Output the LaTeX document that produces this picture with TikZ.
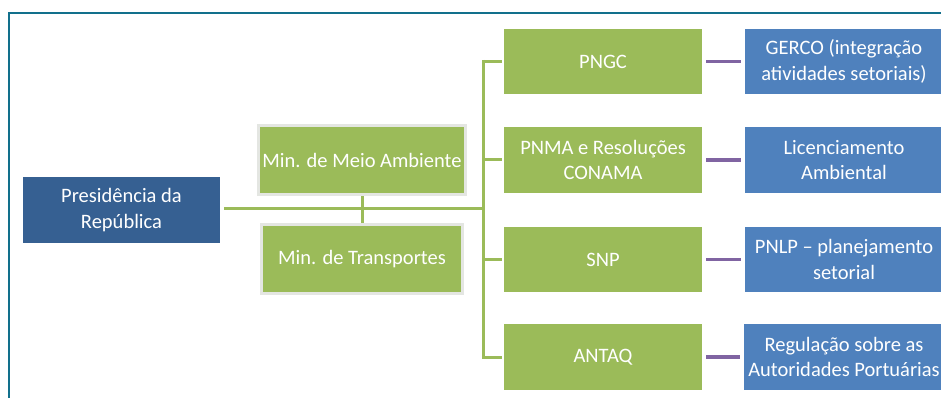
\documentclass[tikz,border=0pt]{standalone}
\usepackage{fontspec}
\setmainfont{Carlito}
\usepackage{xcolor}
\usetikzlibrary{positioning, calc}
\definecolor{frameTeal}{RGB}{18, 112, 140}
\definecolor{presBlue}{RGB}{54, 96, 146}
\definecolor{officeBlue}{RGB}{79, 129, 189}
\definecolor{officeGreen}{RGB}{155, 187, 89}
\definecolor{officePurple}{RGB}{128, 100, 162}
\definecolor{minEdge}{RGB}{228, 230, 226}

\tikzset{
    greenbox/.style={fill=officeGreen, text=white, align=center, minimum width=5.94cm, minimum height=1.95cm, font=\fontsize{17.5}{21.5}\selectfont},
    bluebox/.style={fill=officeBlue, text=white, align=center, minimum width=5.94cm, minimum height=1.95cm, font=\fontsize{17.5}{21.5}\selectfont},
    minbox/.style={greenbox, draw=minEdge, line width=0.09cm, minimum width=6.03cm, minimum height=2.07cm},
    greenline/.style={draw=officeGreen, line width=0.09cm},
    purpleline/.style={draw=officePurple, line width=0.11cm, shorten <=0.12cm, shorten >=0.12cm}
}

\begin{document}
\begin{tikzpicture}[x=0.03cm, y=-0.03cm]
        \useasboundingbox (0,0) rectangle (941,398);
        \clip (0,0) rectangle (941,398);
        \draw[frameTeal, line width=0.07cm] (9,13) rectangle (980,440);

        \node[fill=presBlue, text=white, align=center, minimum width=5.91cm, minimum height=1.98cm, font=\fontsize{17.5}{21.5}\selectfont] (pres) at (121.5,210) {Presidência da\\República};
        \node[minbox] (mma) at (362,160) {Min. de Meio Ambiente};
        \node[minbox] (mtr) at (362,259) {Min. de Transportes};

        \node[greenbox] (pngc) at (603,61.5) {PNGC};
        \node[greenbox] (pnma) at (603,160) {PNMA e Resoluções\\CONAMA};
        \node[greenbox] (snp) at (603,259.5) {SNP};
        \node[greenbox] (antaq) at (603,357) {ANTAQ};

        \node[bluebox] (gerco) at (844,61.5) {GERCO (integração\\atividades setoriais)};
        \node[bluebox] (lic) at (844,160) {Licenciamento\\Ambiental};
        \node[bluebox] (pnlp) at (844,259.5) {PNLP -- planejamento\\setorial};
        \node[bluebox] (reg) at (844,357) {Regulação sobre as\\Autoridades Portuárias};

        % tronco e barramento
        \coordinate (bus) at (483,209);
        \draw[greenline] ([xshift=0.12cm]pres.east |- bus) -- (bus);
        \draw[greenline] (mma.south) -- (mtr.north);
        \draw[greenline] ($(bus|-pngc.west)+(0,-1.5)$) -- ($(bus|-antaq.west)+(0,1.5)$);
        \foreach \b in {pngc, pnma, snp, antaq}
            \draw[greenline] (bus|-\b.west) -- ([xshift=-0.06cm]\b.west);

        \draw[purpleline] (pngc) -- (gerco);
        \draw[purpleline] (pnma) -- (lic);
        \draw[purpleline] (snp) -- (pnlp);
        \draw[purpleline] (antaq) -- (reg);
    \end{tikzpicture}
\end{document}
